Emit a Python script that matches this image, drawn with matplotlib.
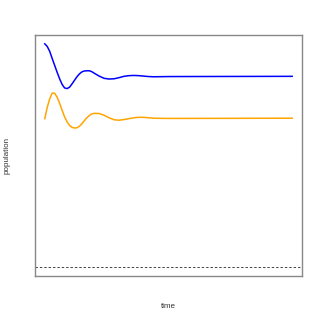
import matplotlib
matplotlib.use('Agg')
import matplotlib.pyplot as plt

# valores (unidades arbitrarias)
time = [0, 1, 2, 3, 4, 5, 6, 7, 8, 9, 10, 11, 12, 13, 14, 15, 16, 17, 18, 19, 20,
        22, 24, 26, 28, 30, 32, 34, 36, 38, 40, 42, 44, 50, 100]
pop_blue = [100.3, 99.1, 96.9, 93.7, 90.6, 87.5, 84.6, 82.1, 80.5, 80.2, 80.8,
            82.3, 83.9, 85.5, 86.8, 87.7, 88.1, 88.2, 88.2, 87.8, 87.1,
            85.8, 84.8, 84.5, 84.6, 85.1, 85.7, 86.0, 86.1, 86.0, 85.8,
            85.6, 85.5, 85.6, 85.7]
pop_orange = [66.7, 71.8, 75.6, 78.2, 78.1, 76.3, 73.6, 70.5, 67.5, 65.3, 63.7,
              62.8, 62.5, 62.6, 63.3, 64.4, 65.8, 67.1, 68.1, 68.8, 69.1,
              69.0, 68.2, 67.1, 66.2, 66.0, 66.3, 66.7, 67.1, 67.3, 67.3,
              67.1, 66.9, 66.8, 66.9]
baseline = 0

plt.rcParams['font.family'] = ['Liberation Sans', 'DejaVu Sans']

fig = plt.figure(figsize=(3.2, 3.2), dpi=100)
ax = fig.add_axes([0.109, 0.137, 0.835, 0.754])

ax.plot(time, pop_blue, color='#0000ff', lw=1.1)
ax.plot(time, pop_orange, color='#ffa500', lw=1.1)
ax.axhline(baseline, color='#444444', lw=0.7, ls=(0, (2.5, 2)))

# rango estilo R (4% extra)
lo = baseline
hi = max(pop_blue)
pad = 0.04 * (hi - lo)
ax.set_ylim(lo - pad, hi + pad)
ax.set_xlim(min(time) - 0.04 * (max(time) - min(time)), max(time) + 0.04 * (max(time) - min(time)))

ax.set_xticks([])
ax.set_yticks([])
for s in ax.spines.values():
    s.set_color('#888888')
    s.set_linewidth(1.0)

fig.text(0.526, 0.042, 'time', ha='center', va='center', fontsize=5.8, color='#333333')
fig.text(0.022, 0.514, 'population', ha='center', va='center', rotation=90, fontsize=5.8, color='#333333')

fig.savefig('out.png', dpi=100)
